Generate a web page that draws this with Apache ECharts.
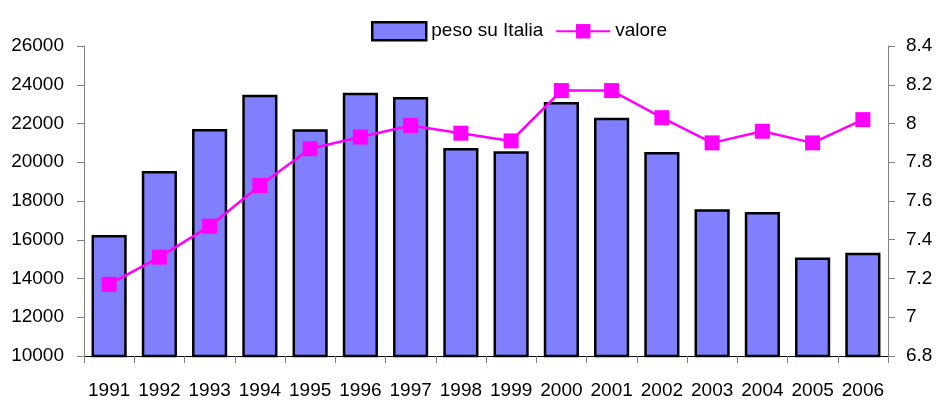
<!DOCTYPE html>
<html>
<head>
<meta charset="utf-8">
<script src="https://cdn.jsdelivr.net/npm/echarts@6/dist/echarts.min.js"></script>
<style>
  html, body { margin: 0; padding: 0; background: #fff; }
  #main { width: 937px; height: 400px; }
</style>
</head>
<body>
<div id="main"></div>
<script>
// dati
const anni = ['1991', '1992', '1993', '1994', '1995', '1996', '1997', '1998',
  '1999', '2000', '2001', '2002', '2003', '2004', '2005', '2006'];
const pesoSuItalia = [16250, 19550, 21720, 23490, 21700, 23590, 23370, 20740,
  20570, 23110, 22300, 20530, 17570, 17430, 15090, 15330];
const valore = [7.17, 7.31, 7.47, 7.68, 7.87, 7.93, 7.99, 7.95,
  7.91, 8.17, 8.17, 8.03, 7.90, 7.96, 7.90, 8.02];

const chart = echarts.init(document.getElementById('main'), null, { renderer: 'canvas' });

const font = 'Liberation Sans, Arial, sans-serif';

const option = {
  animation: false,
  textStyle: { fontFamily: font, color: '#000' },
  legend: {
    left: 366,
    top: 16,
    itemWidth: 54,
    itemHeight: 18,
    itemGap: 12,
    textStyle: { fontSize: 19, color: '#000', fontFamily: font },
    data: [
      { name: 'peso su Italia', icon: 'rect', itemStyle: { color: '#8080ff', borderColor: '#000', borderWidth: 2.5 } },
      { name: 'valore' }
    ]
  },
  grid: {
    left: 84,
    right: 49,
    top: 46,
    bottom: 44
  },
  xAxis: {
    type: 'category',
    data: anni,
    axisLine: { lineStyle: { color: '#000', width: 1 } },
    axisTick: { show: true, length: 7, interval: 0, lineStyle: { color: '#808080' } },
    axisLabel: { fontSize: 19, color: '#000', margin: 25, interval: 0 }
  },
  yAxis: [
    {
      type: 'value',
      min: 10000,
      max: 26000,
      interval: 2000,
      axisLine: { show: true, lineStyle: { color: '#808080' } },
      axisTick: { show: true, length: 7, lineStyle: { color: '#808080' } },
      axisLabel: { fontSize: 19, color: '#000', margin: 20, formatter: v => String(v) },
      splitLine: { show: false }
    },
    {
      type: 'value',
      min: 6.8,
      max: 8.4,
      interval: 0.2,
      position: 'right',
      axisLine: { show: true, lineStyle: { color: '#808080' } },
      axisTick: { show: true, length: 7, lineStyle: { color: '#808080' } },
      axisLabel: {
        fontSize: 19, color: '#000', margin: 18,
        formatter: v => String(parseFloat(v.toFixed(1)))
      },
      splitLine: { show: false }
    }
  ],
  series: [
    {
      name: 'peso su Italia',
      type: 'bar',
      data: pesoSuItalia,
      barCategoryGap: '30%',
      itemStyle: { color: '#8080ff', borderColor: '#000', borderWidth: 2.5 }
    },
    {
      name: 'valore',
      type: 'line',
      yAxisIndex: 1,
      data: valore,
      symbol: 'rect',
      symbolSize: 15,
      lineStyle: { color: '#ff00ff', width: 2.5 },
      itemStyle: { color: '#ff00ff' }
    }
  ]
};

chart.setOption(option);
</script>
</body>
</html>
